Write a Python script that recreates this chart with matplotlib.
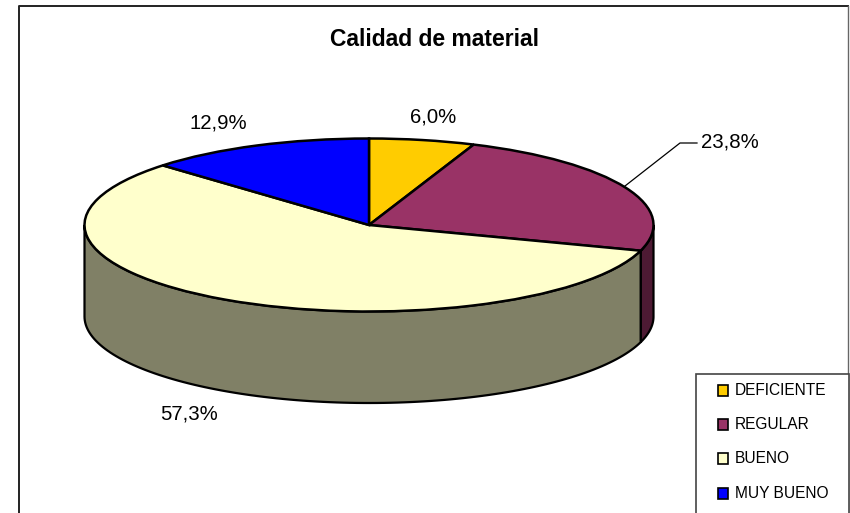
import numpy as np
import matplotlib
matplotlib.use("Agg")
import matplotlib.pyplot as plt
from matplotlib.patches import Rectangle, Polygon

title = "Calidad de material"
categories = ["DEFICIENTE", "REGULAR", "BUENO", "MUY BUENO"]
values = [6.0, 23.8, 57.3, 12.9]
labels = ["6,0%", "23,8%", "57,3%", "12,9%"]
top_colors = ["#FFCC00", "#993366", "#FFFFCC", "#0000FF"]
side_colors = ["#806600", "#4D1A33", "#808066", "#000080"]

W, H = 850, 513
CX, CY, RX, RY, DEPTH = 369, 225, 284.5, 86.5, 91.5
plt.rcParams['font.family'] = ['Liberation Sans', 'DejaVu Sans']

fig = plt.figure(figsize=(W/100, H/100), dpi=100, facecolor="white")
ax = fig.add_axes([0, 0, 1, 1])

# Side walls (front half only, t measured clockwise from top, visible 90..270)
edges = np.concatenate([[0], np.cumsum(values)]) / sum(values) * 360
for c, a0, a1 in zip(side_colors, edges[:-1], edges[1:]):
    lo, hi = max(a0, 90), min(a1, 270)
    if lo >= hi:
        continue
    t = np.radians(np.linspace(lo, hi, 120))
    x = np.sin(t)
    y = np.cos(t)
    px = np.concatenate([x, x[::-1]])
    py = np.concatenate([y, y[::-1] - DEPTH / RY])
    ax.add_patch(Polygon(np.c_[px, py], closed=True, facecolor=c, edgecolor="black", linewidth=1.6, zorder=1))

# Top face
ax.pie(values, colors=top_colors, startangle=90, counterclock=False, radius=1, center=(0, 0),
       wedgeprops=dict(edgecolor="black", linewidth=1.8), frame=True)
ax.set_aspect("auto")
ax.set_xlim(-CX / RX, (W - CX) / RX)
ax.set_ylim(-(H - CY) / RY, CY / RY)
ax.axis("off")

# Remaining elements in pixel coordinates
ov = fig.add_axes([0, 0, 1, 1], facecolor="none")
ov.set_xlim(0, W)
ov.set_ylim(H, 0)
ov.axis("off")

ov.plot([19.5, 19.5, 848.5], [H, 6, 6], color="#222222", lw=1.4, zorder=1)
ov.plot([848.5, 848.5], [6, H], color="#666666", lw=1.0, zorder=1)
ov.text(435, 40, title, fontsize=16.5, fontweight="bold", ha="center", va="center", color="black")

label_pos = [(433, 117), (730, 142), (189, 414), (218, 123)]
for (x, y), s in zip(label_pos, labels):
    ov.text(x, y, s, fontsize=14.7, ha="center", va="center", color="black")
ov.plot([625, 680, 697], [186, 143, 143], color="black", lw=0.9)

# Legend
ov.add_patch(Rectangle((696, 374), 153, 140, facecolor="white", edgecolor="#444444", lw=1.2, zorder=2))
leg_y = [390.5, 424.5, 458.5, 493]
for y, c, s in zip(leg_y, top_colors, categories):
    ov.add_patch(Rectangle((718.5, y - 5.5), 10, 11, facecolor=c, edgecolor="black", lw=1.2, zorder=3))
    ov.text(735, y, s, fontsize=11.2, ha="left", va="center", color="black", zorder=3)

fig.savefig("out.png", dpi=100)
